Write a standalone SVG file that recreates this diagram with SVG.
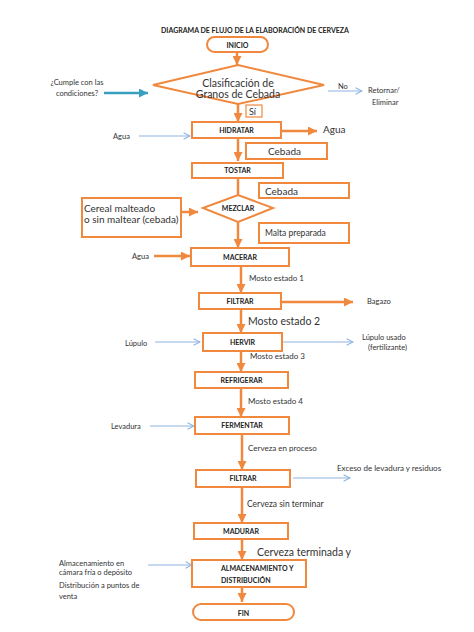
<svg xmlns="http://www.w3.org/2000/svg" width="474" height="632" viewBox="0 0 474 632">
<style>
.box{fill:#fff;stroke:#F0883E;stroke-width:2}
.t{font-family:Lato,"Open Sans","Liberation Sans",sans-serif;fill:#333}
.b{font-family:Lato,"Open Sans","Liberation Sans",sans-serif;fill:#222;font-weight:bold;font-size:7px;text-anchor:middle}
.s{text-anchor:start}
.o{stroke:#F0883E;stroke-width:2.5;fill:none;marker-end:url(#ao)}
.bl{stroke:#8DB3E2;stroke-width:1.2;fill:none;marker-end:url(#ab)}
.tl{stroke:#3AA0C0;stroke-width:2.5;fill:none;marker-end:url(#at)}
</style>
<defs>
<marker id="ao" viewBox="0 0 10 10" refX="10" refY="5" markerWidth="9" markerHeight="9" markerUnits="userSpaceOnUse" orient="auto"><path d="M0,0 L10,5 L0,10 z" fill="#F0883E"/></marker>
<marker id="ab" viewBox="0 0 10 10" refX="9" refY="5" markerWidth="8" markerHeight="8" markerUnits="userSpaceOnUse" orient="auto"><path d="M1,1 L9,5 L1,9" fill="none" stroke="#8DB3E2" stroke-width="1.3"/></marker>
<marker id="at" viewBox="0 0 10 10" refX="10" refY="5" markerWidth="9" markerHeight="9" markerUnits="userSpaceOnUse" orient="auto"><path d="M0,0 L10,5 L0,10 z" fill="#3AA0C0"/></marker>
</defs>
<rect width="474" height="632" fill="#fff"/>
<text class="b" x="255" y="33" font-size="7.2">DIAGRAMA DE FLUJO DE LA ELABORACIÓN DE CERVEZA</text>

<g id="connectors">
<path class="o" d="M237,52 V65"/>
<path class="o" d="M238,104 V122"/>
<path class="tl" d="M104,93 H148"/>
<path class="bl" d="M328,91 H362"/>
<path class="o" d="M281,131 H317"/>
<path class="bl" d="M139,136 H190"/>
<path class="o" d="M238,138 V161"/>
<path d="M238,178 V195" stroke="#F0883E" stroke-width="2.5" fill="none"/>
<path class="o" d="M181,212 H198"/>
<path class="o" d="M238,222 V248"/>
<path class="o" d="M154,256 H190"/>
<path class="o" d="M241,266 V293"/>
<path class="o" d="M281,302 H353"/>
<path class="o" d="M241,309 V333"/>
<path class="bl" d="M155,342 H200"/>
<path class="bl" d="M283,342 H353"/>
<path class="o" d="M241,351 V372"/>
<path class="o" d="M241,388 V417"/>
<path class="bl" d="M150,426 H194"/>
<path class="o" d="M242,434 V470"/>
<path class="bl" d="M293,478 H350"/>
<path class="o" d="M242,487 V523"/>
<path class="o" d="M242,539 V560"/>
<path class="bl" d="M148,565 H192"/>
<path class="o" d="M242,587 V602"/>
</g>

<g id="inicio"><rect class="box" x="207" y="37" width="61" height="15" rx="7.5"/><text class="b" x="237.5" y="47.5" font-size="8.5">INICIO</text></g>

<g id="clasificacion">
<polygon class="box" points="153,85 238,65 324,85 238,104"/>
<text class="t" x="238" y="87" font-size="10.5" text-anchor="middle">Clasificación de</text>
<text class="t" x="238" y="98" font-size="10.5" text-anchor="middle">Granos de Cebada</text>
</g>
<g id="si"><rect x="246" y="105" width="16" height="12" fill="#fff" stroke="#F0883E" stroke-width="1.2"/><text class="t" x="249" y="115" font-size="9">Sí</text></g>
<g id="cumple"><text class="t" x="77" y="85" font-size="7.5" text-anchor="middle">¿Cumple con las</text><text class="t" x="77" y="96" font-size="7.5" text-anchor="middle">condiciones?</text></g>
<g id="no"><text class="t" x="338" y="89" font-size="7.5">No</text></g>
<g id="retornar"><text class="t" x="368" y="93" font-size="7.5">Retornar/</text><text class="t" x="372" y="105" font-size="7.5">Eliminar</text></g>

<g id="hidratar"><rect class="box" x="192" y="122" width="89" height="16"/><text class="b" x="236.5" y="132.5">HIDRATAR</text></g>
<g id="agua-out"><text class="t" x="323" y="133" font-size="10">Agua</text></g>
<g id="agua-in1"><text class="t" x="113" y="139" font-size="7.5">Agua</text></g>
<g id="cebada1"><rect class="box" x="246" y="143" width="81" height="16" stroke-width="1.2"/><text class="t" x="268" y="155" font-size="10">Cebada</text></g>

<g id="tostar"><rect class="box" x="192" y="163" width="91" height="15"/><text class="b" x="237.5" y="173">TOSTAR</text></g>
<g id="cebada2"><rect class="box" x="259" y="183" width="90" height="15" stroke-width="1.2"/><text class="t" x="265" y="194.5" font-size="10">Cebada</text></g>

<g id="mezclar"><polygon class="box" points="203,208 238,195 273,208 238,222"/><text class="b" x="238" y="211">MEZCLAR</text></g>
<g id="cereal"><rect class="box" x="82" y="198" width="99" height="39" stroke-width="1.2"/><text class="t" x="84" y="212" font-size="10">Cereal malteado</text><text class="t" x="84" y="223" font-size="10">o sin maltear (cebada)</text></g>
<g id="malta"><rect class="box" x="259" y="223" width="90" height="20" stroke-width="1.2"/><text class="t" x="265" y="236" font-size="8.5">Malta preparada</text></g>

<g id="macerar"><rect class="box" x="191" y="248" width="98" height="18"/><text class="b" x="240" y="259.5">MACERAR</text></g>
<g id="agua-in2"><text class="t" x="132" y="259" font-size="7.5">Agua</text></g>
<g id="mosto1"><text class="t" x="249" y="281" font-size="8">Mosto estado 1</text></g>

<g id="filtrar1"><rect class="box" x="199" y="293" width="82" height="16"/><text class="b" x="240" y="303.5">FILTRAR</text></g>
<g id="bagazo"><text class="t" x="367" y="304" font-size="7.5">Bagazo</text></g>
<g id="mosto2"><text class="t" x="248" y="325" font-size="10.5">Mosto estado 2</text></g>

<g id="hervir"><rect class="box" x="203" y="333" width="79" height="18"/><text class="b" x="242.5" y="344.5">HERVIR</text></g>
<g id="lupulo"><text class="t" x="125" y="346" font-size="7.5">Lúpulo</text></g>
<g id="lupulo-usado"><text class="t" x="362" y="340" font-size="7.5">Lúpulo usado</text><text class="t" x="368" y="350" font-size="7.5">(fertilizante)</text></g>
<g id="mosto3"><text class="t" x="250" y="359" font-size="8">Mosto estado 3</text></g>

<g id="refrigerar"><rect class="box" x="195" y="372" width="93" height="16"/><text class="b" x="241.5" y="382.5">REFRIGERAR</text></g>
<g id="mosto4"><text class="t" x="248" y="404" font-size="8">Mosto estado 4</text></g>

<g id="fermentar"><rect class="box" x="195" y="417" width="94" height="17"/><text class="b" x="242" y="428">FERMENTAR</text></g>
<g id="levadura"><text class="t" x="111" y="429" font-size="7.5">Levadura</text></g>
<g id="cerveza-proceso"><text class="t" x="248" y="451" font-size="8">Cerveza en proceso</text></g>

<g id="filtrar2"><rect class="box" x="196" y="470" width="94" height="17"/><text class="b" x="243" y="481">FILTRAR</text></g>
<g id="exceso"><text class="t" x="337" y="471" font-size="8">Exceso de levadura y residuos</text></g>
<g id="cerveza-sin"><text class="t" x="247" y="507" font-size="8.5">Cerveza sin terminar</text></g>

<g id="madurar"><rect class="box" x="194" y="523" width="94" height="16"/><text class="b" x="241" y="533.5">MADURAR</text></g>
<g id="cerveza-terminada"><text class="t" x="257" y="556" font-size="10.5">Cerveza terminada y</text></g>

<g id="almacenamiento"><rect class="box" x="192" y="560" width="114" height="27"/><text class="b s" x="221" y="571">ALMACENAMIENTO Y</text><text class="b s" x="221" y="583">DISTRIBUCIÓN</text></g>
<g id="almacen-text"><text class="t" x="59" y="566" font-size="7.5">Almacenamiento en</text><text class="t" x="59" y="575" font-size="7.5">cámara fría o depósito</text><text class="t" x="59" y="588" font-size="7.5">Distribución a puntos de</text><text class="t" x="59" y="599" font-size="7.5">venta</text></g>

<g id="fin"><rect class="box" x="193" y="604" width="101" height="16" rx="8"/><text class="b" x="243.5" y="615.5" font-size="9">FIN</text></g>
</svg>
